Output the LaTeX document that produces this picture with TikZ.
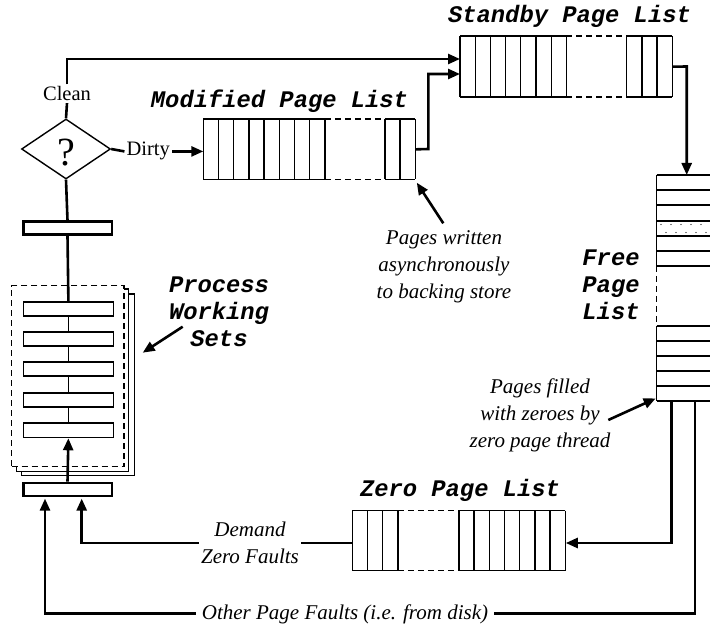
\documentclass[tikz,border=0pt]{standalone}
\usepackage{fontspec}
\setmainfont{Liberation Serif}
\newfontfamily\courfont{Liberation Mono}
\usetikzlibrary{arrows.meta,shapes.geometric}
\newcommand\pagequeue[6]{% x0, ytop, ybot, nL, gap, nR
  \pgfmathsetmacro\pqxa{#1+#4*15.2}
  \pgfmathsetmacro\pqxb{\pqxa+#5}
  \pgfmathsetmacro\pqxc{\pqxb+#6*15.2}
  \draw[cell] (#1,#2) -- (\pqxa,#2) (#1,#3) -- (\pqxa,#3);
  \draw[cell] (\pqxb,#2) -- (\pqxc,#2) (\pqxb,#3) -- (\pqxc,#3);
  \draw[cell,qdash] (\pqxa,#2) -- (\pqxb,#2) (\pqxa,#3) -- (\pqxb,#3);
  \foreach \i in {0,...,#4} \draw[cell] (#1+\i*15.2,#2) -- (#1+\i*15.2,#3);
  \foreach \i in {0,...,#6} \draw[cell] (\pqxb+\i*15.2,#2) -- (\pqxb+\i*15.2,#3);
}
\begin{document}
\begin{tikzpicture}[x=1pt,y=-1pt,
  conn/.style={line width=2.6pt},
  arr/.style={line width=2.6pt,-{Triangle[length=12pt,width=10pt]}},
  cell/.style={line width=1.3pt},
  qdash/.style={dash pattern=on 6pt off 4pt},
  thickbox/.style={draw,line width=2.6pt,minimum width=88.6pt,minimum height=13pt,inner sep=0pt},
  bar/.style={draw,line width=1.8pt,minimum width=90pt,minimum height=14pt,inner sep=0pt,anchor=north west},
  title/.style={font=\courfont\bfseries\itshape\fontsize{23.8}{27}\selectfont,align=center,inner sep=0pt},
  lbl/.style={font=\fontsize{20.5}{27}\selectfont,inner sep=2pt},
  note/.style={font=\itshape\fontsize{21}{26.8}\selectfont,align=center,inner sep=2pt}
]
\useasboundingbox (0,0) rectangle (710,628);

% ---------- list frames (named) ----------
\node[inner sep=0pt,minimum width=212.3pt,minimum height=61pt,anchor=north west] (sb) at (460,36) {};
\node[inner sep=0pt,minimum width=212.1pt,minimum height=60.3pt,anchor=north west] (mod) at (203.3,119) {};
\node[inner sep=0pt,minimum width=213.1pt,minimum height=60pt,anchor=north west] (zl) at (352.3,510.7) {};
\node[inner sep=0pt,minimum width=53.3pt,minimum height=226pt,anchor=north west] (fl) at (656.7,175) {};

% ---------- queues ----------
\pagequeue{460}{36}{97}{7}{60.3}{3}
\pagequeue{203.3}{119}{179.3}{8}{60}{2}
\pagequeue{352.3}{510.7}{570.7}{3}{61}{7}

% ---------- free page list ----------
\foreach \y in {175,190,205,221,236,251,266} \draw[cell] (656.7,\y) -- (710,\y);
\draw[cell] (656.7,175) -- (656.7,266);
\draw[cell,qdash] (656.7,266) -- (656.7,326);
\foreach \y in {326,341,356,371,386,401} \draw[cell] (656.7,\y) -- (710,\y);
\draw[cell] (656.7,326) -- (656.7,401);
\foreach \x in {661,671,...,708} \fill (\x,224.5) circle (0.7);
\foreach \x in {666,676,...,708} \fill (\x,232.5) circle (0.7);

% ---------- decision ----------
\node[draw,diamond,line width=1.4pt,minimum width=89pt,minimum height=60pt,inner sep=0pt] (dia) at (66,149) {};
\node[font=\fontsize{40}{40}\selectfont,inner sep=0pt,anchor=base] (qm) at (66.5,166) {?};
\node[lbl,anchor=base] (clean) at (67,100.7) {Clean};
\node[lbl,anchor=base] (dirty) at (148.3,156) {Dirty};

% ---------- process working sets ----------
\draw[line width=1.3pt,fill=white] (21.7,294) rectangle (134.3,475.7);
\draw[line width=1.3pt,fill=white] (16.7,289) rectangle (128.3,471.7);
\node[draw,line width=1.3pt,qdash,fill=white,inner sep=0pt,minimum width=112.3pt,minimum height=181pt,anchor=north west] (pws) at (11,285) {};
\foreach \y [count=\k] in {301.5,331.5,361.5,391.8,422.5}
  \node[bar] (bar\k) at (22.5,\y) {};
\foreach \a/\b in {1/2,2/3,3/4,4/5} \draw[line width=1.1pt] (bar\a.south) -- (bar\b.north);
\node[thickbox] (tb) at (67.5,228) {};
\node[thickbox] (bb) at (67.5,489.5) {};

% ---------- titles (base = last line) ----------
\node[title,anchor=base] (sbt) at (569.5,22.7) {Standby Page List};
\node[title,anchor=base] (modt) at (279.5,107.3) {Modified Page List};
\node[title,anchor=base] (zlt) at (460,496.7) {Zero Page List};
\node[title,anchor=base] (flt) at (611,319.3) {Free\\Page\\List};
\node[title,anchor=base] (pwst) at (219,346.7) {Process\\Working\\Sets};

% ---------- notes (base = last line) ----------
\node[note,anchor=base] (pwn) at (444,298.3) {Pages written\\asynchronously\\to backing store};
\node[note,anchor=base] (pfn) at (540,447.3) {Pages filled\\with zeroes by\\zero page thread};
\node[note,anchor=base] (dzn) at (250,563.3) {Demand\\Zero Faults};
\node[note,anchor=base,inner xsep=6pt] (opf) at (345,619.3) {Other Page Faults (i.e. from disk)};

% ---------- connectors ----------
\coordinate (cltop) at (67,59);
\coordinate (mdturn) at (428.3,149);
\coordinate (mdlev) at (0,74);
\coordinate (sbturn) at (686.7,66.5);
\coordinate (fzx) at (671.7,401);
\coordinate (zlev) at (0,543);
\coordinate (fox) at (695,401);
\coordinate (olev) at (0,613.3);
\coordinate (dzx) at (81.7,0);
\coordinate (ofx) at (45,0);

\draw[conn] (dia.north) -- (clean.north |- clean.south);
\draw[arr] (clean.north) -- (cltop) -- (cltop -| sb.west);
\draw[conn] (dia.east) -- (dirty.west);
\draw[arr] (dirty.east) -- (dirty.east -| mod.west);
\draw[arr] (mod.east) -- (mdturn) -- (mdturn |- mdlev) -- (mdlev -| sb.west);
\draw[arr] (sb.east) -- (sbturn) -- (sbturn |- fl.north);
\draw[arr] (fzx) -- (fzx |- zlev) -- (zlev -| zl.east);
\draw[conn] (fox) -- (fox |- olev) -- (olev -| opf.east);
\draw[arr] (olev -| opf.west) -- (olev -| ofx) -- ([yshift=-1.3pt]ofx |- bb.south);
\draw[conn] (zlev -| zl.west) -- (zlev -| dzn.east);
\draw[arr] (zlev -| dzn.west) -- (zlev -| dzx) -- ([yshift=-1.3pt]dzx |- bb.south);
\draw[conn] (dia.south) -- (tb.north);
\draw[conn] (tb.south) -- (bar1.north);
\draw[arr] (bb.north) -- (bar5.south);

% ---------- annotation arrows ----------
\coordinate (pwa) at (443.3,223.3);
\draw[arr] (pwa) -- ([shift={(1,3)}]mod.south east);
\coordinate (pfa) at (608.3,420);
\draw[arr] (pfa) -- ([shift={(-1,-3)}]fl.south west);
\coordinate (pwsa) at (182.7,326.7);
\draw[arr] (pwsa) -- (142.7,352.7);
\end{tikzpicture}
\end{document}
